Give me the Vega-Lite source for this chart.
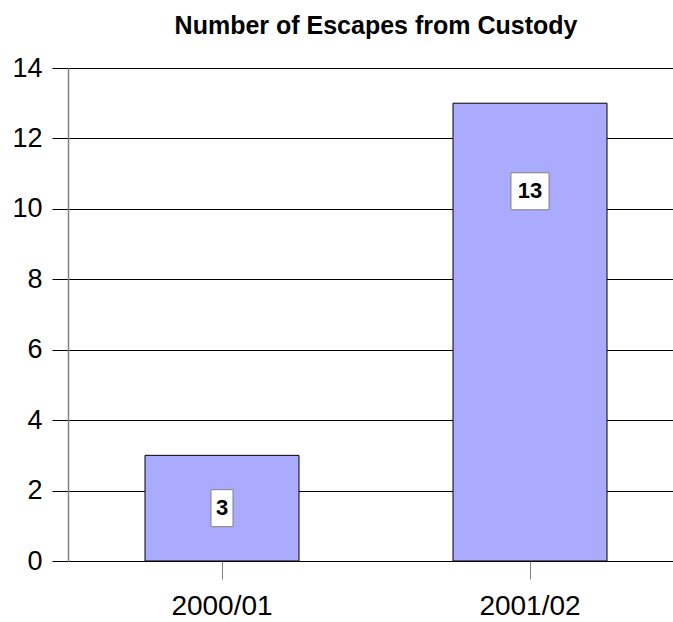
{
  "$schema": "https://vega.github.io/schema/vega-lite/v6.json",
  "autosize": "none",
  "width": 616,
  "height": 493,
  "padding": {"left": 68, "top": 68, "right": 0, "bottom": 61},
  "background": "white",
  "title": {
    "text": "Number of Escapes from Custody",
    "font": "Liberation Sans",
    "fontSize": 25,
    "fontWeight": "bold",
    "color": "black",
    "anchor": "middle",
    "offset": 15
  },
  "data": {
    "values": [
      {"year": "2000/01", "escapes": 3},
      {"year": "2001/02", "escapes": 13}
    ]
  },
  "transform": [
    {"calculate": "datum.escapes * 0.9 - 1.2", "as": "labelPos"},
    {"calculate": "'' + datum.escapes", "as": "label"}
  ],
  "config": {
    "view": {"stroke": null},
    "axis": {"labelFont": "Liberation Sans", "labelColor": "black"}
  },
  "encoding": {
    "x": {
      "field": "year",
      "type": "nominal",
      "sort": null,
      "scale": {"paddingInner": 0.5, "paddingOuter": 0.25},
      "axis": {
        "title": null,
        "labelAngle": 0,
        "labelFontSize": 28,
        "domain": false,
        "tickSize": 18,
        "tickColor": "#808080",
        "tickWidth": 1,
        "labelPadding": 13
      }
    }
  },
  "layer": [
    {
      "mark": {"type": "bar", "fill": "#AAAAFF", "stroke": "black", "strokeWidth": 1},
      "encoding": {
        "y": {
          "field": "escapes",
          "type": "quantitative",
          "scale": {"domain": [0, 14], "nice": false},
          "axis": {
            "title": null,
            "values": [0, 2, 4, 6, 8, 10, 12, 14],
            "labelFontSize": 27,
            "grid": true,
            "gridColor": "black",
            "gridOpacity": 1,
            "gridWidth": 1,
            "tickSize": 16,
            "tickColor": "black",
            "domainColor": "#808080",
            "domainWidth": 1.5,
            "labelPadding": 10
          }
        }
      }
    },
    {
      "mark": {"type": "point", "filled": true, "fill": "white", "stroke": "#808080", "strokeWidth": 1, "opacity": 1, "size": 1369},
      "encoding": {
        "y": {"field": "labelPos", "type": "quantitative"},
        "shape": {
          "field": "label",
          "type": "nominal",
          "scale": {"domain": ["3", "13"], "range": ["M-0.595,-1H0.595V1H-0.595Z", "M-1.03,-1H1.03V1H-1.03Z"]},
          "legend": null
        }
      }
    },
    {
      "mark": {"type": "text", "font": "Liberation Sans", "fontSize": 22, "fontWeight": "bold", "color": "black", "baseline": "middle", "align": "center"},
      "encoding": {
        "y": {"field": "labelPos", "type": "quantitative"},
        "text": {"field": "label"}
      }
    }
  ]
}
